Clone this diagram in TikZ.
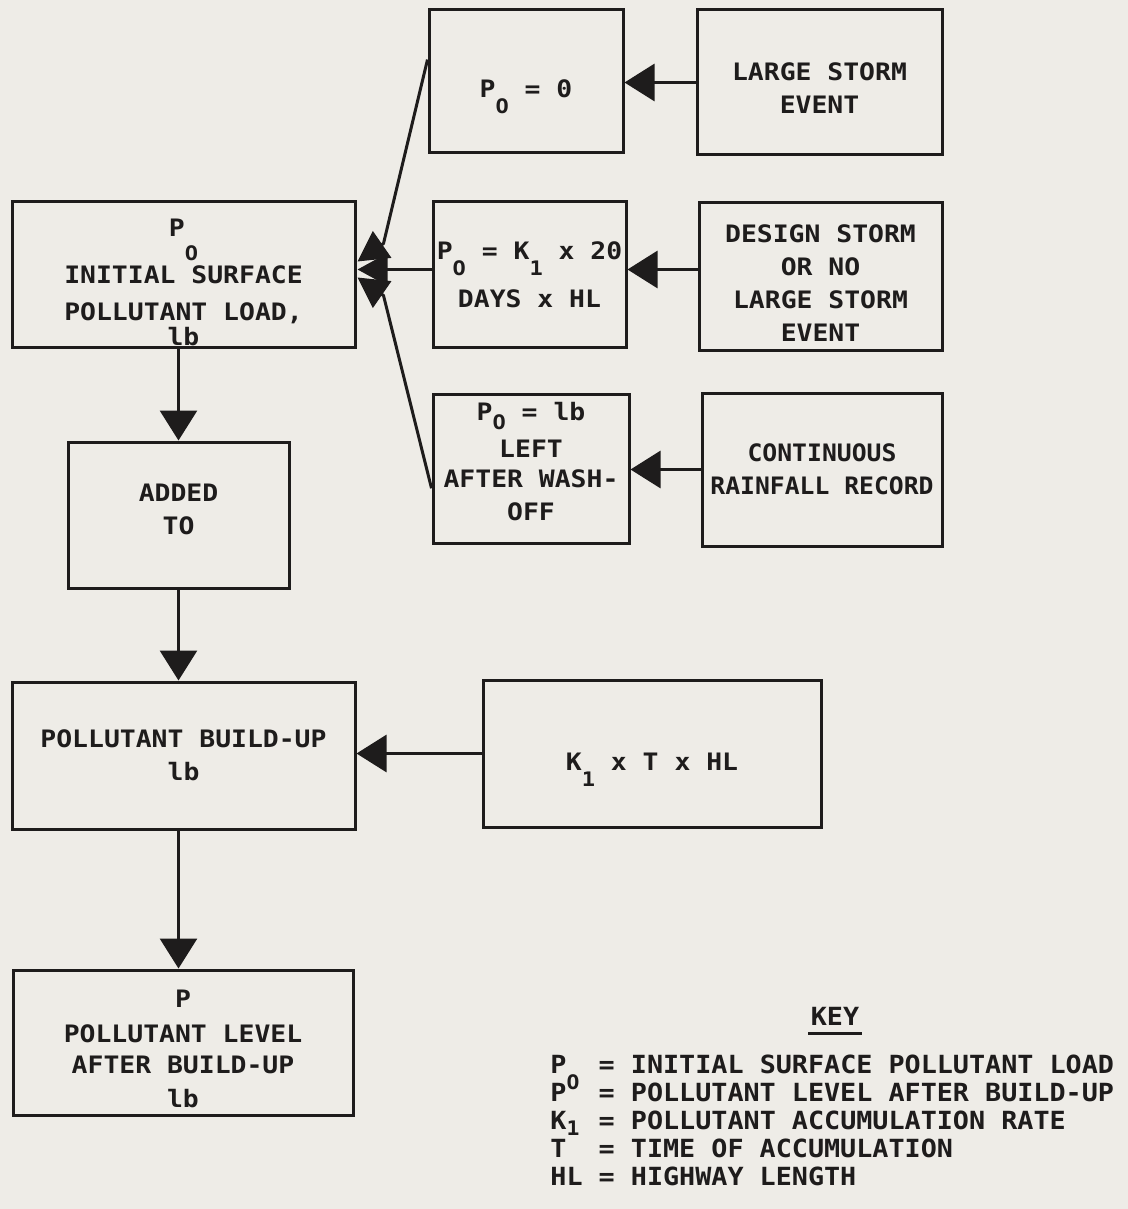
\documentclass[tikz,border=0pt]{standalone}
\usepackage{fontspec}
\newfontfamily\tw[FakeStretch=1.1]{DejaVu Sans Mono Bold}
\newfontfamily\twn[FakeStretch=1.03]{DejaVu Sans Mono Bold}
\newfontfamily\twk[FakeStretch=1.07]{DejaVu Sans Mono Bold}
\usetikzlibrary{arrows.meta,calc}
\definecolor{paper}{RGB}{238,236,231}
\definecolor{ink}{RGB}{30,28,28}
\newcommand\mysub[2][8pt]{\smash{\raisebox{-#1}{\fontsize{10}{10}\selectfont #2}}}
\newcommand\tup[1]{\rule{0pt}{#1}}
\newcommand\tdp[1]{\rule[-#1]{0pt}{#1}}
\newcommand\keysym[1]{\makebox[16.1pt][l]{#1}}
\begin{document}
\begin{tikzpicture}[x=0.5pt,y=-0.5pt,
  box/.style={draw=ink, line width=1.5pt, rectangle, inner sep=0pt, align=center,
    font=\tw\fontsize{12}{16.5}\selectfont, text=ink},
  arr/.style={draw=ink, line width=1.5pt, line join=round,
    -{Triangle[length=15pt,width=18.5pt]}},
  fan/.style={draw=ink, line width=1.5pt, line join=round,
    -{Triangle[length=15pt,width=16pt]}},
  keytxt/.style={inner sep=0pt, anchor=base west, font=\twk\fontsize{12.5}{14}\selectfont, text=ink}]
\fill[paper] (0,0) rectangle (1128,1209);
\useasboundingbox (0,0) rectangle (1128,1209);

% boxes
\node[box, minimum width=171.5pt, minimum height=72.5pt] (A) at (183.5,274.5)
  {\tup{16.25pt}P\mysub[12pt]{O}\\[7pt] INITIAL SURFACE\\[2pt] POLLUTANT LOAD,\\[-4pt] lb};
\node[box, minimum width=97pt, minimum height=71.5pt] (P0) at (526,81.5)
  {\tup{16pt}P\mysub{O} = 0};
\node[box, minimum width=122.5pt, minimum height=72.5pt] (LS) at (819.5,82.5)
  {\tup{14.75pt}LARGE STORM\\EVENT};
\node[box, minimum width=96.5pt, minimum height=72.5pt] (PK) at (529.5,274.5)
  {P\mysub{O} = K\mysub{1} x 20\\[7.5pt] DAYS x HL};
\node[box, minimum width=121.5pt, minimum height=73.5pt] (DS) at (820.5,276.5)
  {\tup{15.75pt}DESIGN STORM\\OR NO\\LARGE STORM\\EVENT};
\node[box, minimum width=98pt, minimum height=74.5pt] (PL) at (531,468.5)
  {P\mysub[4.5pt]{O} = lb\\[2pt] LEFT\\[-1.5pt] AFTER WASH-\\OFF\tdp{7pt}};
\node[box, minimum width=120pt, minimum height=76.5pt, font=\twn\fontsize{12}{16.5}\selectfont] (CR) at (822,469.5)
  {CONTINUOUS\\RAINFALL RECORD};
\node[box, minimum width=110.5pt, minimum height=73pt] (AD) at (178.5,515)
  {ADDED\\TO\tdp{6pt}};
\node[box, minimum width=171.5pt, minimum height=73.5pt] (BU) at (183.5,755.5)
  {POLLUTANT BUILD-UP\\lb};
\node[box, minimum width=169pt, minimum height=73.5pt] (KT) at (652,753.5)
  {\tup{16.75pt}K\mysub{1} x T x HL};
\node[box, minimum width=170pt, minimum height=72.5pt] (PF) at (183,1042.5)
  {\tup{14.75pt}P\\[1pt] POLLUTANT LEVEL\\[-1pt] AFTER BUILD-UP\\[0.5pt] lb};

% horizontal connectors
\draw[arr] (LS.west) -- (LS.west -| P0.east);
\draw[arr] ($(DS.west)+(0,-7)$) -- ($(PK.east)+(0,-5)$);
\draw[arr] (CR.west) -- (CR.west -| PL.east);
\draw[arr] (KT.west) -- (KT.west -| BU.east);

% converging connectors into A
\coordinate (u0) at ($(P0.north west)!0.35!(P0.south west)$);
\coordinate (l0) at ($(PL.north west)!0.63!(PL.south west)$);
\draw[fan] (u0) -- ($(A.east)+(27,-31)$) -- ($(A.east)+(1,-13)$);
\draw[fan] ($(PK.west)+(0,-5)$) -- ($(A.east)+(1,-5)$);
\draw[fan] (l0) -- ($(A.east)+(27,21)$) -- ($(A.east)+(1,3)$);

% vertical connectors
\draw[arr] (A.south -| AD.north) -- (AD.north);
\draw[arr] (AD.south) -- (AD.south |- BU.north);
\draw[arr] (BU.south -| AD.south) -- (PF.north -| AD.south);

% key
\node[keytxt, anchor=base] (keyh) at (835,1025) {KEY};
\draw[ink, line width=1.5pt] ($(keyh.base west)+(-2,8)$) -- ($(keyh.base east)+(2,8)$);
\node[keytxt] (k1) at (550,1073) {\keysym{P\mysub{O}} = INITIAL SURFACE POLLUTANT LOAD};
\node[keytxt] (k2) at (550,1101) {\keysym{P} = POLLUTANT LEVEL AFTER BUILD-UP};
\node[keytxt] (k3) at (550,1129) {\keysym{K\mysub[3pt]{1}} = POLLUTANT ACCUMULATION RATE};
\node[keytxt] (k4) at (550,1157) {\keysym{T} = TIME OF ACCUMULATION};
\node[keytxt] (k5) at (550,1185) {\keysym{HL} = HIGHWAY LENGTH};
\end{tikzpicture}
\end{document}
